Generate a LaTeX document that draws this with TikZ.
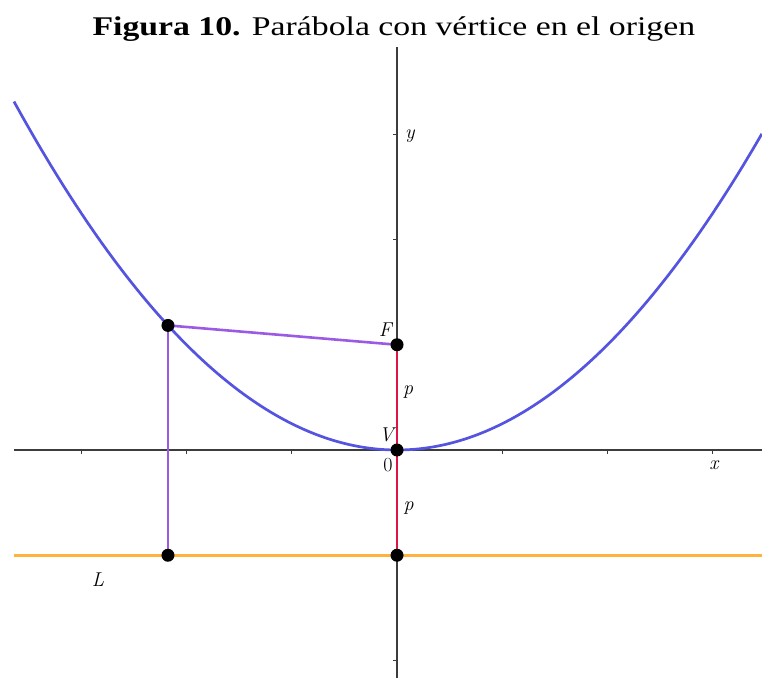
\documentclass[tikz,border=0pt]{standalone}
\usepackage{fontspec}
\newfontfamily\titlefont{Liberation Serif}
\definecolor{parblue}{RGB}{84,84,224}
\definecolor{segpurple}{RGB}{155,90,228}
\definecolor{segred}{RGB}{222,20,70}
\definecolor{lineorange}{RGB}{255,178,60}
\definecolor{axisgray}{RGB}{60,60,60}
\begin{document}
\begin{tikzpicture}[x=105.25pt,y=105.25pt,
  axis/.style={axisgray,line width=1.2pt},
  tick/.style={axisgray,line width=0.9pt},
  dot/.style={circle,fill=black,inner sep=0pt,minimum size=13pt},
  lbl/.style={font=\fontsize{20}{20}\selectfont\itshape,inner sep=0pt},
  ]
\useasboundingbox (-3.772,-2.1663) rectangle (3.4679,4.2755);
% title
\node[anchor=base,inner sep=0pt,font=\titlefont\fontsize{27}{27}\selectfont] (title) at (-0.03,3.9429) {\scalebox{1.25}[1]{\textbf{Figura 10.} Parábola con vértice en el origen}};
% axes
\draw[axis] (-3.639,0) -- (3.4679,0);
\draw[axis] (0,3.829) -- (0,-2.1663);
\foreach \t in {-3,-2,-1,1,2,3}
  \draw[tick] (\t,0) -- (\t,-0.035);
\foreach \t in {-2,-1,1,2,3}
  \draw[tick] (0,\t) -- (-0.035,\t);
% directrix
\draw[lineorange,line width=2.6pt] (-3.639,-1) -- (3.4679,-1);
% parabola
\draw[parblue,line width=2.7pt,smooth,samples=120,domain=-3.639:3.4679] plot (\x,{\x*\x/4});
% points
\coordinate (P) at (-2.176,1.1837);
\coordinate (Q) at (-2.176,-1);
\coordinate (F) at (0,1);
\coordinate (V) at (0,0);
\coordinate (D) at (0,-1);
\draw[segpurple,line width=2.6pt] (P) -- (F);
\draw[segpurple,line width=2.6pt] (P) -- (Q);
\draw[segred,line width=2.6pt] (F) -- (V);
\draw[segred,line width=2.6pt] (V) -- (D);
\node[dot] (nP) at (P) {};
\node[dot] (nQ) at (Q) {};
\node[dot] (nF) at (F) {};
\node[dot] (nV) at (V) {};
\node[dot] (nD) at (D) {};
% labels
\node[lbl] (lF) at (-0.112,1.14) {F};
\node[lbl] (lV) at (-0.1,0.143) {V};
\node[lbl,font=\fontsize{20}{20}\selectfont\upshape] (l0) at (-0.086,-0.143) {0};
\node[lbl] (lp1) at (0.105,0.555) {p};
\node[lbl] (lp2) at (0.11,-0.551) {p};
\node[lbl] (lx) at (3.01,-0.143) {x};
\node[lbl] (ly) at (0.123,2.985) {y};
\node[lbl] (lL) at (-2.84,-1.235) {L};
\end{tikzpicture}
\end{document}
